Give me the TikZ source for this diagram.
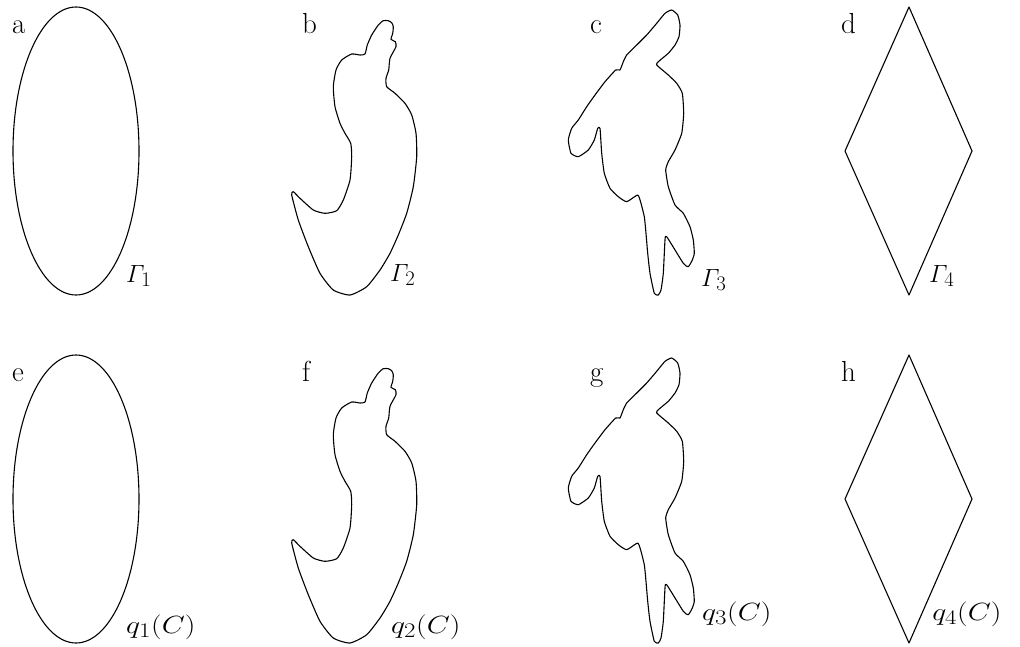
\documentclass[tikz,border=0pt]{standalone}
\usepackage{amsmath}
\begin{document}
\begin{tikzpicture}[x=1pt,y=-1pt,
  outline/.style={draw=black,line width=1.1pt,line join=round},
  lbl/.style={anchor=base west,inner sep=0pt,font=\fontsize{29}{34}\selectfont},
  qlbl/.style={anchor=base west,inner sep=0pt,font=\fontsize{31}{36}\selectfont,xscale=1.2}]
\useasboundingbox (0,0) rectangle (1020,646);
\def\shapeB{(388.3,20.7) (391.7,22.7) (393.3,26.7) (392.7,33.3) (391,39.3) (395.3,41.7) (396,46.7) (390,58.3) (388.7,70) (386,78.3) (386.7,86.7) (395,93.3) (405,103.3) (411.7,115) (416,133.3) (416.7,156.7) (413.3,186.7) (406.7,213.3) (398.3,235) (390,253.3) (380,270) (366.7,286.7) (350,295) (333.3,290) (320,273.3) (308.3,246.7) (298.3,220) (291.7,195) (293.3,191.7) (300,198.3) (313.3,210) (325,213.3) (336.7,210.7) (343.3,200) (350,180) (351.7,156.7) (350.7,143.3) (345,133.3) (340,123.3) (335,106.7) (333.3,86.7) (336,70) (341.7,60) (351.7,54) (360,55) (365,54) (367.3,45) (371.7,35) (378.3,25) (383.3,20.7)}
\def\shapeC{(671.7,10) (677.7,15) (680,25) (679,36.7) (675,45) (668.3,53.3) (658.3,61.7) (656.7,65) (668.3,75) (676.7,83.3) (682.3,93.3) (683.7,113.3) (681.7,133.3) (675,150) (668.3,161.7) (665.7,170) (668.3,186.7) (675,205) (683.3,213.3) (690,226.7) (693.3,240) (694.3,253.3) (692.3,260) (688.3,266.7) (683.3,263.3) (666.7,236.7) (665,240) (663.3,273.3) (661,290) (658.3,295) (654.3,293.3) (650,273.3) (647.7,253.3) (645.7,230) (644.3,216.7) (641,203.3) (637.7,195) (626.7,201.7) (618.3,196.7) (610,188.3) (604.3,173.3) (601.7,153.3) (600,128.3) (597.7,128.3) (594.3,140) (588.3,150) (578.3,156.7) (571,153.3) (568.3,140) (571.7,128.3) (578.3,120) (586.7,106.7) (595,95) (605,81.7) (615.7,70) (620,70) (623.3,61.7) (626.7,55) (635,46.7) (646.7,35) (656.7,23.3) (665,13.3)}
\foreach \dy in {0,348}{
  \begin{scope}[yshift=-\dy pt]
    \draw[outline] (76,151) ellipse [x radius=63, y radius=144];
    \draw[outline] plot[smooth cycle,tension=0.35] coordinates {\shapeB};
    \draw[outline] plot[smooth cycle,tension=0.3] coordinates {\shapeC};
    \draw[outline] (909,7) -- (972,151) -- (909,295) -- (845,151) -- cycle;
  \end{scope}
}
\node[lbl] (la) at (12,33) {a};
\node[lbl] (lb) at (302,33) {b};
\node[lbl] (lc) at (590,33) {c};
\node[lbl] (ld) at (841,33) {d};
\node[lbl] (le) at (12,381) {e};
\node[lbl] (lf) at (302,381) {f};
\node[lbl] (lg) at (590,381) {g};
\node[lbl] (lh) at (841,381) {h};
\node[lbl] (g1) at (126,282) {$\varGamma_1$};
\node[lbl] (g2) at (390,281) {$\varGamma_2$};
\node[lbl] (g3) at (701,286) {$\varGamma_3$};
\node[lbl] (g4) at (929,282) {$\varGamma_4$};
\node[qlbl] (q1) at (126,633) {$q_1(C)$};
\node[qlbl] (q2) at (391,633) {$q_2(C)$};
\node[qlbl] (q3) at (702,620) {$q_3(C)$};
\node[qlbl] (q4) at (932,620) {$q_4(C)$};
\end{tikzpicture}
\end{document}
